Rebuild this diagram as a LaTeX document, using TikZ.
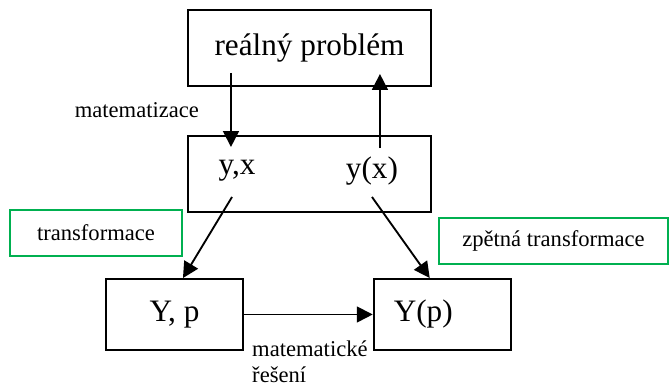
\documentclass[tikz,border=0pt]{standalone}
\usepackage{fontspec}
\setmainfont{Liberation Serif}
\usetikzlibrary{arrows.meta,positioning}
\definecolor{FrameGreen}{HTML}{00B050}

\begin{document}
\begin{tikzpicture}[
  node distance=0.5in,
  stage/.style={draw=black, line width=1.4pt, minimum width=2.53in, minimum height=0.79in,
    align=center, font=\fontsize{23.5}{27}\selectfont, inner sep=0pt},
  result/.style={stage, minimum width=1.43in, minimum height=0.74in},
  term/.style={font=\fontsize{23.5}{27}\selectfont, inner sep=1pt},
  note/.style={font=\fontsize{17}{19.5}\selectfont, inner sep=1pt},
  greenbox/.style={draw=FrameGreen, line width=1.8pt, minimum height=0.48in,
    font=\fontsize{17}{19.5}\selectfont, inner sep=0pt},
  flow/.style={-{Triangle[length=4.2mm,width=4.2mm]}, line width=1.4pt}
]
\useasboundingbox (0,0) rectangle (6.969in,-4.042in);
\node[stage] (real) at (3.224in,-0.5in) {reálný problém};
\node[stage, below=0.5in of real] (model) {};
\node[term] (yx) at (2.469in,-1.78in) {y,x};
\node[term] (yofx) at (3.875in,-1.78in) {y(x)};
\node[result] (Yp) at (1.818in,-3.276in) {Y, p};
\node[result, text width=1.01in, align=left, inner xsep=0.21in, right=1.34in of Yp] (Ypp) {Y(p)};
\node[greenbox, minimum width=1.79in] (trans) at (1.0in,-2.427in) {transformace};
\node[greenbox, minimum width=2.39in] (back) at (5.766in,-2.51in) {zpětná transformace};
\node[note, align=left, anchor=north west] (solve) at (2.611in,-3.53in) {matematické\\řešení};
% free ends inside the boxes
\coordinate (downA) at (2.406in,-0.76in);
\coordinate (downB) at (2.406in,-1.531in);
\coordinate (upA) at (3.958in,-1.542in);
\coordinate (upB) at (3.958in,-0.771in);
\coordinate (diagL) at (2.417in,-2.052in);
\coordinate (diagR) at (3.875in,-2.052in);
\draw[flow] (downA) -- node[note, left=0.31in] {matematizace} (downB);
\draw[flow] (upA) -- (upB);
\draw[flow] (diagL) -- ([xshift=0.088in]Yp.north);
\draw[flow] (diagR) -- ([xshift=-0.131in]Ypp.north);
\draw[flow] (Yp) -- (Ypp);
\end{tikzpicture}
\end{document}
